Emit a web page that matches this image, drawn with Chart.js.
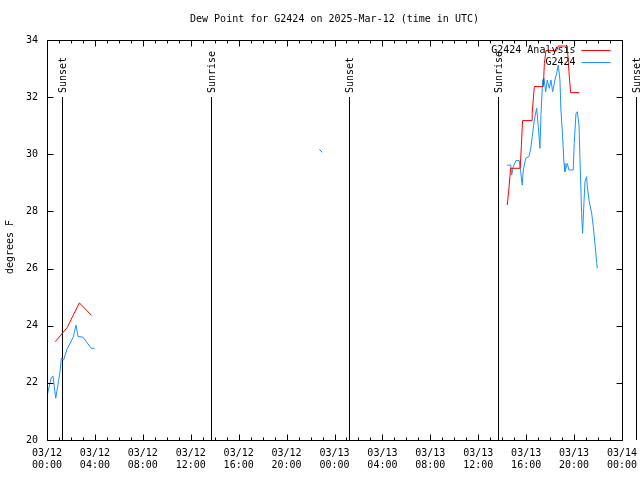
<!DOCTYPE html>
<html>
<head>
<meta charset="utf-8">
<script src="https://cdn.jsdelivr.net/npm/chart.js@4"></script>
<style>
  html, body { margin: 0; padding: 0; background: #fff; }
  #wrap { width: 640px; height: 480px; }
</style>
</head>
<body>
<div id="wrap"><canvas id="dew-chart" width="640" height="480"></canvas></div>
<script>
// hours since 2025-03-12 00:00 UTC
const xTickLabels = [
  ["03/12", "00:00"], ["03/12", "04:00"], ["03/12", "08:00"], ["03/12", "12:00"],
  ["03/12", "16:00"], ["03/12", "20:00"], ["03/13", "00:00"], ["03/13", "04:00"],
  ["03/13", "08:00"], ["03/13", "12:00"], ["03/13", "16:00"], ["03/13", "20:00"],
  ["03/14", "00:00"]
];

const analysisHours = [0.69, 1.69, 2.7, 3.7, null,
  38.42, 38.56, 38.7, 39.5, 39.55, 39.6, 39.7, 40.5, 40.5, 40.68, 41.43, 41.52, 41.65,
  42.54, 42.68, 43.43, 43.57, 43.71, 44.43];
const analysisValues = [23.44, 23.94, 24.8, 24.37, null,
  28.22, 28.81, 29.51, 29.51, 29.51, 30.3, 31.18, 31.18, 31.43, 32.37, 32.37, 33.18, 33.63,
  33.63, 33.79, 33.79, 32.9, 32.16, 32.16];

const stationHours = [0, 0.36, 0.5, 0.73, 1.09, 1.19, 1.39, 1.64, 2.2, 2.42, 2.59, 3.0, 3.7, 3.98, null,
  22.73, 22.98, null,
  38.42, 38.71, 38.79, 38.92, 39.15, 39.42, 39.54, 39.67, 39.76, 39.96, 40.23, 40.38, 40.51,
  40.68, 40.88, 41.01, 41.15, 41.24, 41.38, 41.49, 41.63, 41.76, 41.93, 42.07, 42.21, 42.4,
  42.54, 42.68, 42.82, 42.9, 43.01, 43.16, 43.24, 43.43, 43.57, 43.93, 44.01, 44.16, 44.27,
  44.41, 44.49, 44.63, 44.71, 44.82, 44.91, 45.05, 45.1, 45.24, 45.47, 45.6, 45.74, 45.89, 45.94];
const stationValues = [21.54, 22.19, 22.24, 21.46, 22.39, 22.86, 22.8, 23.15, 23.61, 24.02, 23.62, 23.6, 23.21, 23.21, null,
  30.17, 30.07, null,
  29.62, 29.62, 29.27, 29.57, 29.78, 29.78, 29.39, 28.92, 29.45, 29.86, 29.92, 30.21, 30.62,
  31.2, 31.61, 30.97, 30.21, 31.43, 32.6, 32.66, 32.19, 32.6, 32.31, 32.6, 32.19, 32.6,
  32.83, 33.12, 32.6, 31.55, 30.85, 29.68, 29.39, 29.68, 29.45, 29.45, 30.38, 31.43, 31.49,
  31.03, 29.86, 27.93, 27.23, 28.28, 29.04, 29.22, 28.9, 28.4, 27.93, 27.47, 26.88, 26.18, 26.01];

const eventHours = [1.25, 13.7, 25.2, 37.65, 49.2];
const eventNames = ["Sunset", "Sunrise", "Sunset", "Sunrise", "Sunset"];

const chartTitle = "Dew Point for G2424 on 2025-Mar-12 (time in UTC)";
const yTitle = "degrees F";

const monoFont = { family: "'DejaVu Sans Mono', monospace", size: 10 };
const monoCss = "10px 'DejaVu Sans Mono', monospace";

function toPoints(xs, ys) {
  return xs.map((x, i) => ({ x: x === null ? NaN : x, y: ys[i] }));
}

// titles, frame, inward ticks, sun events and legend
const decorations = {
  id: "decorations",
  beforeDatasetsDraw(chart) {
    const ctx = chart.ctx;
    const xs = chart.scales.x;
    const ys = chart.scales.y;
    const area = chart.chartArea;
    ctx.save();
    ctx.strokeStyle = "#000";
    ctx.fillStyle = "#000";
    ctx.lineWidth = 1;
    ctx.font = monoCss;

    ctx.textAlign = "center";
    ctx.textBaseline = "middle";
    ctx.fillText(chartTitle, (area.left + area.right) / 2, 19);
    ctx.save();
    ctx.translate(10, 247);
    ctx.rotate(-Math.PI / 2);
    ctx.fillText(yTitle, 0, 0);
    ctx.restore();

    const topY = Math.round(ys.getPixelForValue(32));
    eventHours.forEach((h, i) => {
      const px = Math.round(xs.getPixelForValue(h)) + 0.5;
      ctx.beginPath();
      ctx.moveTo(px, topY);
      ctx.lineTo(px, area.bottom);
      ctx.stroke();
      ctx.save();
      ctx.translate(px + 1, topY - 4);
      ctx.rotate(-Math.PI / 2);
      ctx.textAlign = "left";
      ctx.textBaseline = "middle";
      ctx.fillText(eventNames[i], 0, 0);
      ctx.restore();
    });
    ctx.restore();
  },
  afterDraw(chart) {
    const ctx = chart.ctx;
    const xs = chart.scales.x;
    const ys = chart.scales.y;
    const a = chart.chartArea;
    const L = Math.round(a.left) + 0.5, R = Math.round(a.right) + 0.5;
    const T = Math.round(a.top) + 0.5, B = Math.round(a.bottom) + 0.5;
    ctx.save();
    ctx.strokeStyle = "#000";
    ctx.lineWidth = 1;
    ctx.beginPath();
    for (let h = xs.min; h <= xs.max; h++) {
      const px = Math.round(xs.getPixelForValue(h)) + 0.5;
      const len = h % 4 === 0 ? 6 : 3;
      ctx.moveTo(px, B); ctx.lineTo(px, B - len);
      ctx.moveTo(px, T); ctx.lineTo(px, T + len);
    }
    for (let v = ys.min; v <= ys.max; v += 2) {
      const py = Math.round(ys.getPixelForValue(v)) + 0.5;
      ctx.moveTo(L, py); ctx.lineTo(L + 6, py);
      ctx.moveTo(R, py); ctx.lineTo(R - 6, py);
    }
    ctx.rect(L, T, R - L, B - T);
    ctx.stroke();

    // legend, top right inside the plot
    ctx.font = monoCss;
    ctx.textAlign = "right";
    ctx.textBaseline = "middle";
    chart.data.datasets.forEach((ds, i) => {
      const y = Math.round(a.top + 9.5 + i * 12.5) + 0.5;
      ctx.fillStyle = "#000";
      ctx.fillText(ds.label, R - 47, y);
      ctx.strokeStyle = ds.borderColor;
      ctx.beginPath();
      ctx.moveTo(R - 41, y);
      ctx.lineTo(R - 12, y);
      ctx.stroke();
    });
    ctx.restore();
  }
};

new Chart(document.getElementById("dew-chart"), {
  type: "line",
  data: {
    datasets: [
      {
        label: "G2424 Analysis",
        data: toPoints(analysisHours, analysisValues),
        borderColor: "#ff0000",
        borderWidth: 1,
        pointRadius: 0,
        tension: 0,
        spanGaps: false
      },
      {
        label: "G2424",
        data: toPoints(stationHours, stationValues),
        borderColor: "#1e90ff",
        borderWidth: 1,
        pointRadius: 0,
        tension: 0,
        spanGaps: false
      }
    ]
  },
  options: {
    responsive: false,
    animation: false,
    layout: { padding: { left: 0, right: 18, top: 40, bottom: 0 } },
    plugins: {
      legend: { display: false },
      tooltip: { enabled: false },
      title: { display: false }
    },
    scales: {
      x: {
        type: "linear",
        min: 0,
        max: 48,
        grid: { display: false, drawTicks: false },
        border: { display: false },
        ticks: {
          stepSize: 4,
          autoSkip: false,
          maxRotation: 0,
          padding: 7,
          color: "#000",
          font: monoFont,
          callback: (v) => xTickLabels[v / 4]
        },
        afterFit: (s) => { s.height = 40; s.paddingLeft = 0; s.paddingRight = 0; }
      },
      y: {
        min: 20,
        max: 34,
        grid: { display: false, drawTicks: false },
        border: { display: false },
        ticks: {
          stepSize: 2,
          padding: 9,
          color: "#000",
          font: monoFont
        },
        afterFit: (s) => { s.width = 47; s.paddingTop = 0; s.paddingBottom = 0; }
      }
    }
  },
  plugins: [decorations]
});
</script>
</body>
</html>
